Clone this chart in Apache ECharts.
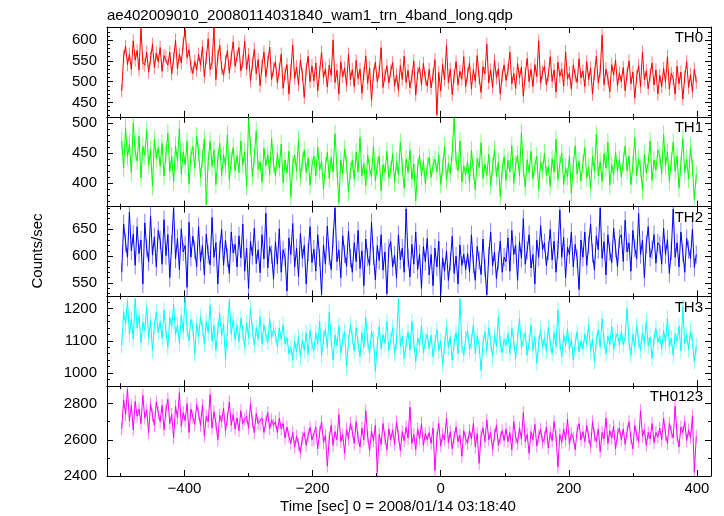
<!DOCTYPE html>
<html><head><meta charset="utf-8">
<script src="https://cdn.jsdelivr.net/npm/echarts@6/dist/echarts.min.js"></script>
<style>html,body{margin:0;padding:0;background:#fff}#c{width:724px;height:516px}</style>
</head><body><div id="c"></div>
<script>
const chartTitle = 'ae402009010_20080114031840_wam1_trn_4band_long.qdp';
const xTitle = 'Time [sec] 0 = 2008/01/14 03:18:40';
const yTitle = 'Counts/sec';
const panelNames = ['TH0', 'TH1', 'TH2', 'TH3', 'TH0123'];
const tStart = -498, tStep = 3;

const th0 = [
478,560,585,541,566,530,598,552,575,528,628,545,540,571,523,556,590,534,569,548,
582,525,563,560,540,571,519,555,600,531,566,545,592,625,558,577,536,520,549,528,
566,540,584,512,557,603,529,546,630,505,560,588,533,515,548,575,521,559,596,537,
561,582,526,548,597,530,565,502,542,578,519,553,490,538,571,512,547,583,505,531,
548,497,530,566,484,520,541,470,526,588,508,535,493,552,517,462,529,561,500,538,
502,545,478,523,571,509,531,487,540,515,600,498,527,470,548,512,533,491,566,505,
529,488,551,507,530,472,519,562,496,533,455,518,547,500,524,582,486,515,538,497,
525,546,490,516,479,539,505,561,498,527,485,512,550,468,520,535,493,544,507,489,
530,485,516,553,420,522,478,541,505,587,497,530,469,514,548,492,525,506,560,488,
518,545,483,529,501,563,510,474,536,519,590,497,528,486,552,509,531,470,515,540,
503,527,571,495,520,484,544,509,535,465,518,556,500,529,488,541,512,598,496,523,
537,492,516,560,501,528,475,547,513,530,489,572,506,521,482,540,515,498,555,509,
526,488,548,505,533,470,519,561,497,524,612,493,530,508,475,541,516,552,490,521,
500,534,478,519,550,495,523,461,512,539,488,571,504,526,483,516,545,492,528,470,
515,488,532,499,560,482,520,507,470,537,495,523,458,511,548,486,517,476,530,498];

const th1 = [
470,425,492,444,465,418,500,452,437,478,409,461,446,488,430,455,395,472,441,459,
428,466,412,449,483,420,445,403,462,437,490,415,452,431,470,399,446,461,425,478,
451,410,442,473,365,437,470,428,455,398,440,466,413,447,429,481,405,438,459,421,
446,418,470,430,452,395,505,461,411,444,487,423,436,402,458,429,447,415,474,433,
412,449,426,465,401,438,417,453,378,431,447,420,472,409,436,455,418,442,397,429,
445,413,460,422,437,390,428,451,408,443,419,482,425,368,439,416,457,431,385,421,
438,407,452,419,476,413,433,396,447,425,411,462,404,429,445,388,431,418,453,409,
422,449,401,436,414,468,427,392,440,418,455,407,432,371,426,446,412,437,399,428,
443,410,430,440,419,447,398,426,461,405,433,416,452,508,437,421,470,402,429,414,
436,401,455,420,389,441,426,467,408,432,413,448,396,427,456,411,435,378,423,444,
405,438,419,462,400,431,447,412,484,425,394,439,418,453,407,429,445,390,436,421,
450,413,428,395,441,419,473,406,432,450,398,426,411,446,383,430,462,415,437,404,
433,459,409,427,391,445,420,481,412,436,403,449,425,468,397,431,414,452,420,440,
410,437,462,421,445,398,430,476,413,441,425,389,448,417,434,470,405,439,422,455,
446,416,481,429,452,403,437,468,420,445,392,431,474,418,440,407,460,426,373,415];

const th2 = [
570,660,625,598,682,610,641,583,655,605,630,548,662,615,590,675,602,636,580,648,
630,585,668,601,640,560,622,690,595,633,575,651,608,620,542,663,598,637,612,580,
655,590,620,565,641,603,584,672,598,625,548,612,650,583,630,597,568,645,606,622,
580,638,597,660,572,615,540,628,601,652,586,612,569,640,595,680,578,618,603,557,
627,585,651,570,612,598,535,634,603,661,580,615,562,642,596,620,548,607,655,588,
613,572,640,597,528,621,585,656,600,575,633,690,590,612,560,638,604,581,647,596,
570,625,590,648,577,610,545,632,598,583,663,601,556,620,592,640,574,608,530,615,
627,580,602,559,640,593,615,570,688,597,561,622,585,645,575,604,540,618,590,633,
565,603,545,615,580,628,530,597,572,610,555,590,637,568,600,548,621,583,604,575,
605,570,640,585,555,618,592,566,632,578,528,600,645,582,608,558,592,628,570,598,
590,634,572,648,603,620,555,627,596,670,585,611,640,578,603,548,630,598,657,612,
625,582,610,650,593,628,570,612,686,598,635,560,617,603,645,580,622,595,538,630,
598,645,583,621,660,605,574,638,612,690,596,627,565,640,608,588,652,615,580,633,
640,590,667,608,625,572,648,615,595,680,603,630,560,622,655,598,612,640,587,625,
620,585,652,603,631,568,610,688,598,625,580,645,606,570,633,612,596,650,579,603];

const th3 = [
1085,1190,1150,1225,1120,1168,1105,1230,1140,1178,1095,1158,1132,1205,1110,1162,1070,1145,1188,1125,
1160,1108,1195,1130,1080,1172,1145,1213,1118,1150,1092,1180,1128,1235,1135,1100,1167,1140,1060,1155,
1112,1175,1138,1090,1160,1125,1210,1098,1148,1070,1135,1185,1115,1152,1040,1140,1226,1120,1165,1102,
1148,1097,1170,1125,1080,1155,1110,1200,1132,1085,1140,1105,1175,1090,1150,1120,1095,1168,1110,1135,
1120,1082,1140,1105,1150,1090,1110,1060,1080,1040,1098,1065,1110,1050,1102,1070,1125,1058,1132,1088,
1070,1125,1090,1160,1052,1108,1135,1078,1190,1100,1040,1118,1085,1145,1062,1105,1128,1020,1095,1150,
1112,1068,1140,1090,1050,1125,1080,1172,1098,1060,1130,1105,1005,1088,1145,1075,1118,1092,1160,1070,
1105,1140,1060,1098,1230,1082,1115,1045,1090,1128,1070,1160,1095,1035,1110,1085,1148,1062,1100,1120,
1075,1118,1050,1092,1135,1068,1100,1025,1085,1145,1078,1112,1040,1095,1125,1060,1230,1088,1055,1108,
1130,1072,1098,1150,1060,1115,1085,1008,1092,1128,1070,1140,1095,1050,1118,1082,1175,1090,1062,1105,
1085,1122,1060,1140,1098,1045,1110,1170,1078,1102,1125,1055,1095,1148,1070,1112,1030,1092,1135,1080,
1110,1068,1142,1090,1060,1125,1082,1195,1095,1050,1118,1085,1138,1072,1105,1040,1092,1128,1065,1100,
1075,1120,1092,1150,1068,1105,1035,1098,1135,1080,1168,1100,1060,1115,1088,1145,1072,1108,1125,1085,
1130,1088,1112,1200,1095,1055,1120,1080,1148,1100,1070,1125,1092,1160,1085,1112,1045,1105,1138,1095,
1115,1075,1132,1095,1170,1082,1108,1055,1122,1098,1145,1068,1205,1090,1118,1072,1130,1100,1035,1085];

const th0123 = [
2660,2820,2740,2880,2705,2790,2655,2812,2730,2770,2690,2845,2720,2765,2640,2798,2735,2680,2810,2750,
2700,2790,2655,2760,2825,2690,2740,2610,2785,2720,2860,2675,2750,2705,2800,2640,2770,2725,2685,2795,
2745,2680,2790,2620,2730,2700,2850,2665,2755,2690,2600,2735,2700,2775,2650,2720,2810,2680,2740,2660,
2720,2650,2760,2690,2715,2730,2665,2800,2700,2640,2745,2690,2685,2720,2640,2700,2750,2660,2710,2680,
2700,2640,2720,2660,2690,2610,2670,2620,2580,2640,2560,2620,2575,2530,2610,2640,2570,2625,2668,2600,
2600,2670,2550,2640,2700,2585,2625,2455,2610,2680,2570,2645,2600,2740,2590,2630,2525,2660,2605,2690,
2645,2580,2700,2610,2560,2665,2600,2760,2620,2540,2650,2595,2680,2420,2630,2575,2690,2610,2545,2660,
2600,2655,2575,2700,2620,2540,2645,2595,2670,2610,2780,2580,2630,2545,2660,2605,2690,2570,2635,2600,
2640,2580,2665,2430,2610,2690,2565,2630,2600,2720,2585,2645,2550,2615,2670,2590,2625,2510,2650,2605,
2580,2650,2605,2690,2560,2635,2470,2620,2665,2590,2710,2600,2640,2545,2625,2680,2570,2610,2650,2595,
2660,2590,2640,2545,2700,2615,2580,2665,2605,2750,2590,2630,2525,2645,2600,2685,2565,2620,2660,2585,
2610,2670,2555,2640,2595,2700,2620,2450,2630,2585,2660,2600,2715,2575,2635,2610,2545,2650,2690,2600,
2645,2590,2680,2615,2560,2700,2625,2590,2660,2535,2640,2605,2720,2580,2650,2610,2675,2550,2630,2665,
2600,2660,2575,2645,2700,2610,2550,2680,2625,2590,2760,2620,2655,2570,2640,2605,2690,2585,2640,2615,
2665,2600,2720,2630,2580,2690,2645,2610,2785,2625,2560,2670,2640,2700,2595,2655,2610,2730,2420,2620];

const panelValues = [th0, th1, th2, th3, th0123];
const yErr = [16, 15, 17, 25, 36];
const yRanges = [[415.3, 631.6], [361.5, 510], [525, 692.4], [958.8, 1237.8], [2400, 2896]];
const yMajorTicks = [[450, 500, 550, 600], [400, 450, 500], [550, 600, 650], [1000, 1100, 1200], [2400, 2600, 2800]];
const yMinorStep = [10, 10, 10, 20, 100];
const xRange = [-521, 422];
const xMajorTicks = [-400, -200, 0, 200, 400];
const xMinorTicks = [-500, -300, -100, 100, 300];
const lineColors = ['#ff0000', '#00ff00', '#0000ff', '#00ffff', '#ff00ff'];
const errColors = ['rgba(255,0,0,0.5)', 'rgba(0,255,0,0.5)', 'rgba(0,0,255,0.5)', 'rgba(0,255,255,0.5)', 'rgba(255,0,255,0.5)'];

const FONT = '"Liberation Sans", Arial, Helvetica, sans-serif';
const GL = 107, GW = 604, GT = 27, GH = 89.8;

function minorList(r, step, majors) {
  const out = [];
  let v = Math.ceil(r[0] / step) * step;
  for (; v <= r[1]; v += step) if (majors.indexOf(v) < 0) out.push(v);
  return out;
}
const fmt = v => String(v).replace('-', '\u2212');

const grids = [], xAxes = [], yAxes = [], series = [], graphics = [];
for (let i = 0; i < 5; i++) {
  grids.push({ left: GL, top: GT + i * GH, width: GW, height: GH, containLabel: false });
  const xBase = { type: 'value', gridIndex: i, min: xRange[0], max: xRange[1], splitLine: { show: false } };
  const lineOn = { show: true, onZero: false, lineStyle: { color: '#000', width: 1 } };
  const lineOff = { show: false, onZero: false };
  xAxes.push(Object.assign({}, xBase, {
    position: 'bottom', axisLine: lineOn,
    axisTick: { show: true, inside: true, length: 6, customValues: xMajorTicks, lineStyle: { color: '#000' } },
    axisLabel: { show: i === 4, customValues: xMajorTicks, formatter: fmt, color: '#000', fontSize: 15, fontFamily: FONT, margin: 5 }
  }));
  xAxes.push(Object.assign({}, xBase, {
    position: 'bottom', axisLine: lineOff,
    axisTick: { show: true, inside: true, length: 3, customValues: xMinorTicks, lineStyle: { color: '#000' } },
    axisLabel: { show: false }
  }));
  xAxes.push(Object.assign({}, xBase, {
    position: 'top', axisLine: lineOn,
    axisTick: { show: true, inside: true, length: 6, customValues: xMajorTicks, lineStyle: { color: '#000' } },
    axisLabel: { show: false }
  }));
  xAxes.push(Object.assign({}, xBase, {
    position: 'top', axisLine: lineOff,
    axisTick: { show: true, inside: true, length: 3, customValues: xMinorTicks, lineStyle: { color: '#000' } },
    axisLabel: { show: false }
  }));
  const yr = yRanges[i];
  const minors = minorList(yr, yMinorStep[i], yMajorTicks[i]);
  const yBase = { type: 'value', gridIndex: i, min: yr[0], max: yr[1], splitLine: { show: false } };
  ['left', 'right'].forEach(pos => {
    yAxes.push(Object.assign({}, yBase, {
      position: pos, axisLine: lineOn,
      axisTick: { show: true, inside: true, length: 6, customValues: yMajorTicks[i], lineStyle: { color: '#000' } },
      axisLabel: { show: pos === 'left', customValues: yMajorTicks[i], formatter: v => String(v), color: '#000', fontSize: 15, fontFamily: FONT, margin: 10 }
    }));
    yAxes.push(Object.assign({}, yBase, {
      position: pos, axisLine: lineOff,
      axisTick: { show: true, inside: true, length: 3, customValues: minors, lineStyle: { color: '#000' } },
      axisLabel: { show: false }
    }));
  });
  const vals = panelValues[i];
  const pts = vals.map((v, k) => [tStart + k * tStep, v]);
  const err = yErr[i], ec = errColors[i];
  series.push({
    type: 'custom', xAxisIndex: 4 * i, yAxisIndex: 4 * i, data: pts, clip: true, z: 1, silent: true,
    encode: { x: 0, y: 1 },
    renderItem: (params, api) => {
      const t = api.value(0), v = api.value(1);
      const p1 = api.coord([t, v - err]), p2 = api.coord([t, v + err]);
      return { type: 'line', shape: { x1: p1[0], y1: p1[1], x2: p2[0], y2: p2[1] }, style: { stroke: ec, lineWidth: 1 } };
    }
  });
  series.push({
    type: 'line', xAxisIndex: 4 * i, yAxisIndex: 4 * i, data: pts, showSymbol: false, symbol: 'none',
    lineStyle: { color: lineColors[i], width: 1 }, clip: true, z: 2, silent: true
  });
  graphics.push({
    type: 'text', x: 703, y: GT + i * GH + 11,
    style: { text: panelNames[i], fill: '#000', font: '15px ' + FONT, textAlign: 'right', textVerticalAlign: 'middle' }
  });
}
graphics.push({ type: 'text', x: 107, y: 16, style: { text: chartTitle, fill: '#000', font: '15px ' + FONT, textAlign: 'left', textVerticalAlign: 'middle' } });
graphics.push({ type: 'text', x: 398, y: 507, style: { text: xTitle, fill: '#000', font: '15px ' + FONT, textAlign: 'center', textVerticalAlign: 'middle' } });
graphics.push({ type: 'text', x: 38, y: 251, rotation: Math.PI / 2, style: { text: yTitle, fill: '#000', font: '15px ' + FONT, textAlign: 'center', textVerticalAlign: 'middle' } });

const chart = echarts.init(document.getElementById('c'), null, { renderer: 'canvas' });
chart.setOption({
  animation: false, backgroundColor: '#fff',
  grid: grids, xAxis: xAxes, yAxis: yAxes, series: series, graphic: graphics
});
</script></body></html>
